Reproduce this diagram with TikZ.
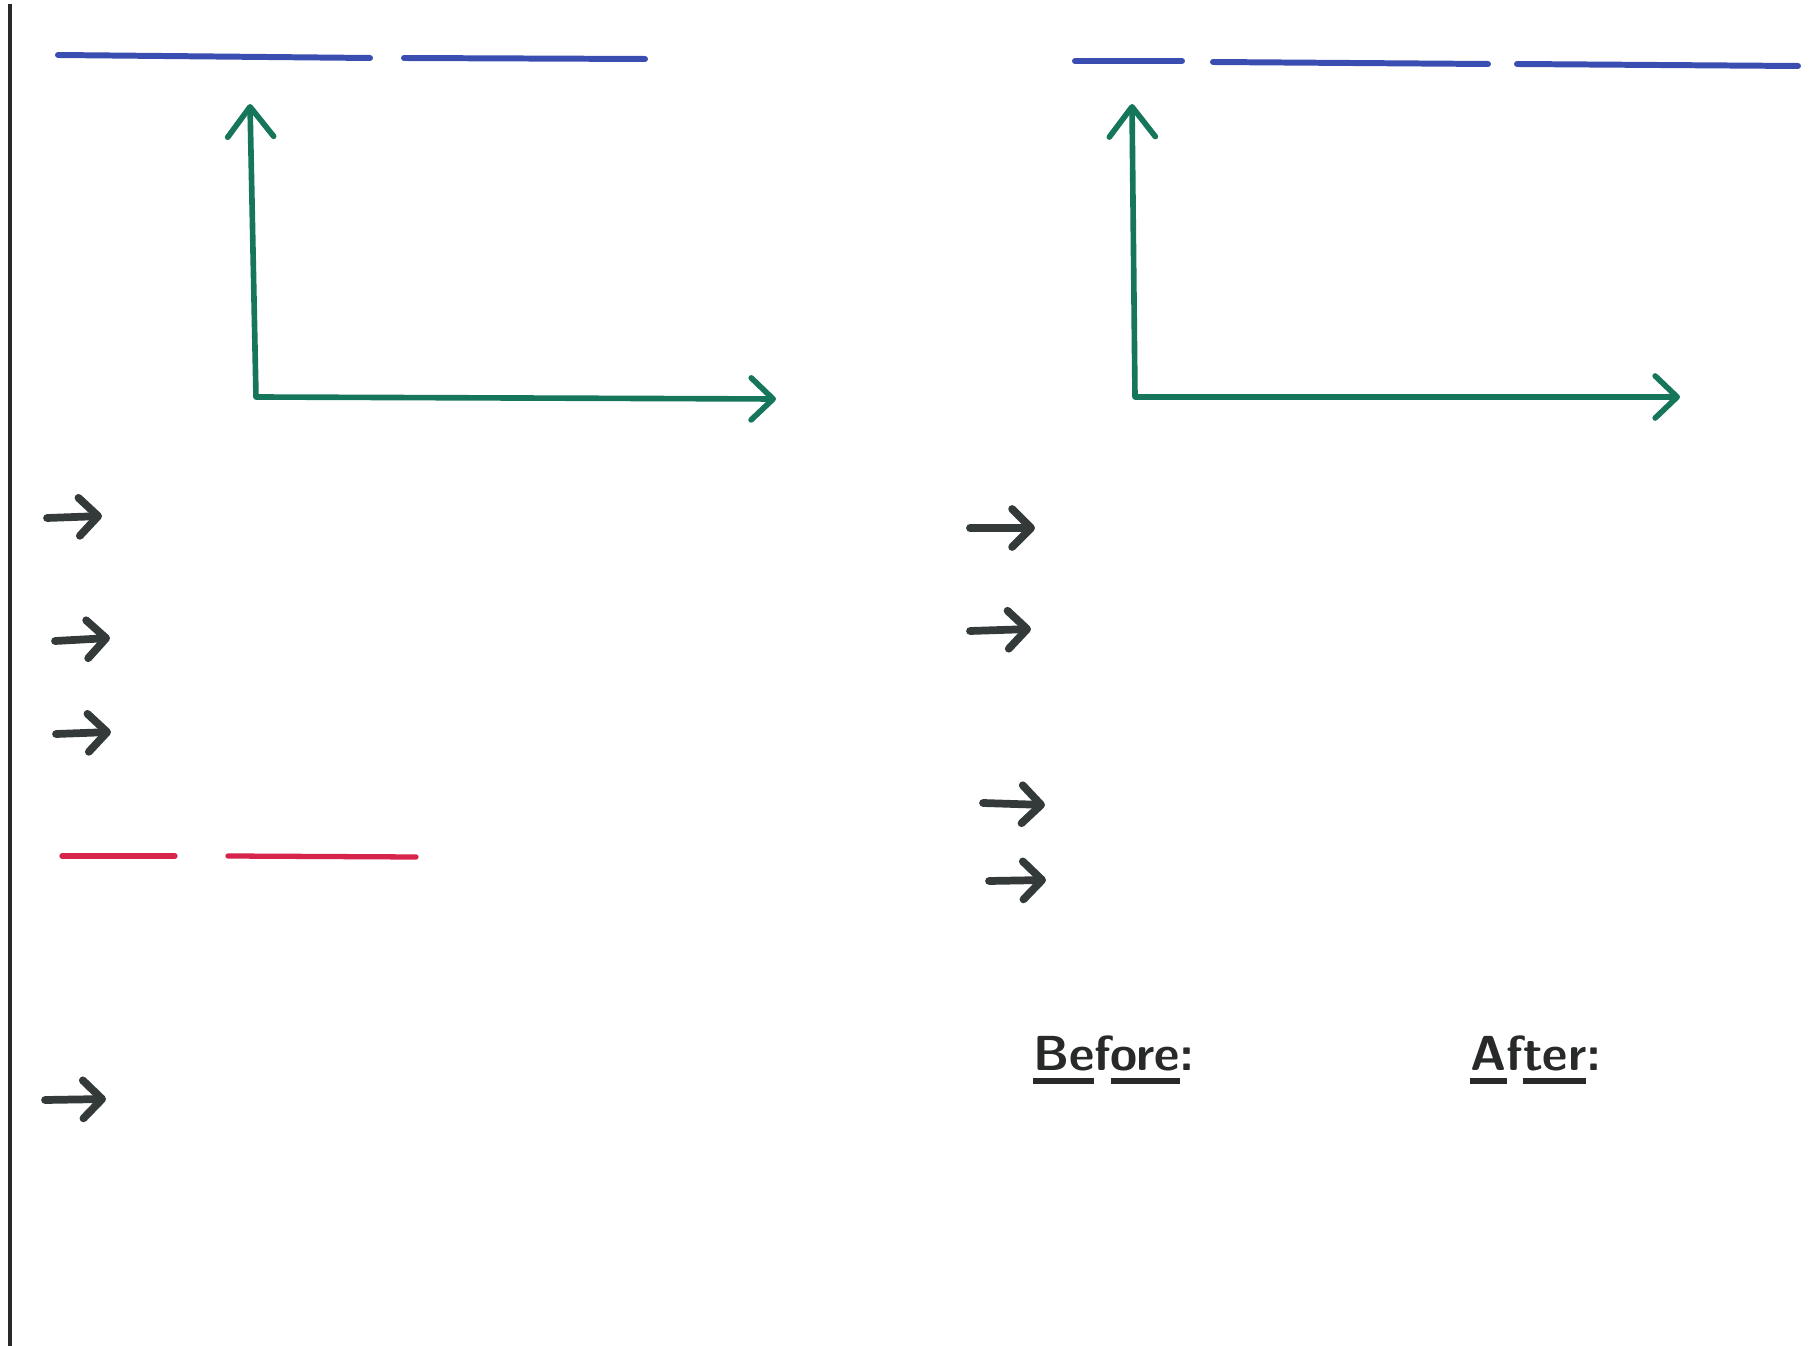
\documentclass[tikz,border=0pt]{standalone}
\usetikzlibrary{arrows.meta}
\definecolor{penblue}{RGB}{58,78,178}
\definecolor{pengreen}{RGB}{22,118,92}
\definecolor{penred}{RGB}{214,36,74}
\definecolor{penblack}{RGB}{52,58,58}
\definecolor{inkblack}{RGB}{40,42,42}
\newcommand\penul[1]{\setbox0\hbox{#1}\rlap{\raisebox{-3.8pt}{\rule{\wd0}{1.6pt}}}\box0}
\tikzset{
  blueline/.style={draw=penblue,line width=1.7pt,line cap=round},
  redline/.style={draw=penred,line width=1.5pt,line cap=round},
  axisline/.style={draw=pengreen,line width=1.6pt,line join=round,
    {Straight Barb[length=3mm,width=4.6mm,round]}-{Straight Barb[length=2.2mm,width=4.2mm,round]}},
  blackarrow/.style={draw=penblack,line width=2.2pt,line cap=round,
    -{Straight Barb[length=1.9mm,width=3.8mm,round]}},
  label/.style={inner sep=0pt,text=inkblack,font=\fontsize{14}{17}\selectfont\sffamily\bfseries}
}
\begin{document}
\begin{tikzpicture}[x=0.01cm,y=-0.01cm]
\useasboundingbox[fill=white] (0,0) rectangle (1811,1346);
% left margin line
\coordinate (mtop) at (10,4);
\coordinate (mbot) at (10,1346);
\draw[draw=inkblack,line width=1.4pt] (mtop) -- (mbot);

% top-left blue lines
\coordinate (b1a) at (58,55);  \coordinate (b1b) at (370,58);
\coordinate (b2a) at (404,58); \coordinate (b2b) at (645,59);
\draw[blueline] (b1a) -- (b1b);
\draw[blueline] (b2a) -- (b2b);

% top-right blue lines
\coordinate (b3a) at (1075,61); \coordinate (b3b) at (1182,61);
\coordinate (b4a) at (1213,62); \coordinate (b4b) at (1488,64);
\coordinate (b5a) at (1517,64); \coordinate (b5b) at (1798,66);
\draw[blueline] (b3a) -- (b3b);
\draw[blueline] (b4a) -- (b4b);
\draw[blueline] (b5a) -- (b5b);

% left axes
\coordinate (lytop) at (250,104);
\coordinate (lcorner) at (256,397);
\coordinate (lxend) at (776,399);
\draw[axisline] (lytop) -- (lcorner) -- (lxend);

% right axes
\coordinate (rytop) at (1132,104);
\coordinate (rcorner) at (1135,397);
\coordinate (rxend) at (1680,397);
\draw[axisline] (rytop) -- (rcorner) -- (rxend);

% left black arrows
\coordinate (la1) at (47,518);  \coordinate (lb1) at (102,516);
\coordinate (la2) at (55,641);  \coordinate (lb2) at (110,638);
\coordinate (la3) at (56,734);  \coordinate (lb3) at (111,732);
\coordinate (la4) at (45,1100); \coordinate (lb4) at (106,1099);
\draw[blackarrow] (la1) -- (lb1);
\draw[blackarrow] (la2) -- (lb2);
\draw[blackarrow] (la3) -- (lb3);
\draw[blackarrow] (la4) -- (lb4);

% red lines
\coordinate (r1a) at (62,856);  \coordinate (r1b) at (175,856);
\coordinate (r2a) at (228,856); \coordinate (r2b) at (416,857);
\draw[redline] (r1a) -- (r1b);
\draw[redline] (r2a) -- (r2b);

% right black arrows
\coordinate (ra1) at (970,528);  \coordinate (rb1) at (1035,528);
\coordinate (ra2) at (970,631);  \coordinate (rb2) at (1031,629);
\coordinate (ra3) at (983,803);  \coordinate (rb3) at (1045,805);
\coordinate (ra4) at (989,881);  \coordinate (rb4) at (1046,880);
\draw[blackarrow] (ra1) -- (rb1);
\draw[blackarrow] (ra2) -- (rb2);
\draw[blackarrow] (ra3) -- (rb3);
\draw[blackarrow] (ra4) -- (rb4);

% labels
\node[label] (before) at (1114,1060) {\penul{Be}f\penul{ore}:};
\node[label] (after) at (1536,1060) {\penul{A}f\penul{ter}:};
\end{tikzpicture}
\end{document}
